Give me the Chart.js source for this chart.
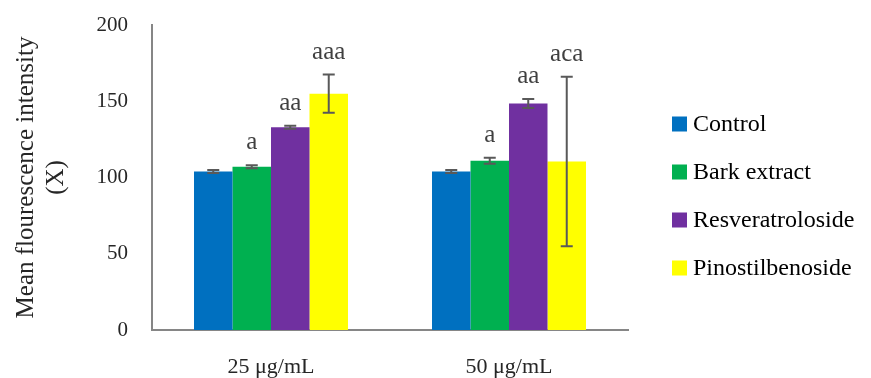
<!DOCTYPE html>
<html>
<head>
<meta charset="utf-8">
<script src="https://cdn.jsdelivr.net/npm/chart.js@4"></script>
<style>
    html, body { margin: 0; padding: 0; background: #fff; }
    #wrap { width: 871px; height: 378px; }
</style>
</head>
<body>
<div id="wrap"><canvas id="barChart"></canvas></div>
<script>
/* ---------------------------
   DATA
--------------------------- */
const categories = ['25 μg/mL', '50 μg/mL'];
const seriesNames = ['Control', 'Bark extract', 'Resveratroloside', 'Pinostilbenoside'];

const controlValues = [104, 104];
const barkValues = [107, 111];
const resveratrolosideValues = [133, 148.5];
const pinostilbenosideValues = [155, 110.5];

// error bar half-lengths
const controlErr = [1, 1];
const barkErr = [1, 2];
const resveratrolosideErr = [1, 3];
const pinostilbenosideErr = [12.5, 55.5];

// significance letters above bars
const controlLetters = ['', ''];
const barkLetters = ['a', 'a'];
const resveratrolosideLetters = ['aa', 'aa'];
const pinostilbenosideLetters = ['aaa', 'aca'];

const yTicks = [0, 50, 100, 150, 200];

const colors = ['#0070C0', '#00B050', '#7030A0', '#FFFF00'];

const FONT = "'Liberation Serif', serif";

/* ---------------------------
   ERROR BARS + LETTERS PLUGIN
--------------------------- */
const errorBarPlugin = {
    id: 'errorBars',
    afterDatasetsDraw(chart) {
        const ctx = chart.ctx;
        const yScale = chart.scales.y;
        chart.data.datasets.forEach((ds, i) => {
            const meta = chart.getDatasetMeta(i);
            meta.data.forEach((bar, j) => {
                const v = ds.data[j];
                const e = ds.errors[j];
                const yTop = yScale.getPixelForValue(v + e);
                const yBot = yScale.getPixelForValue(v - e);
                ctx.save();
                ctx.strokeStyle = '#595959';
                ctx.lineWidth = 2;
                ctx.beginPath();
                ctx.moveTo(bar.x, yTop);
                ctx.lineTo(bar.x, yBot);
                ctx.moveTo(bar.x - 6, yTop);
                ctx.lineTo(bar.x + 6, yTop);
                ctx.moveTo(bar.x - 6, yBot);
                ctx.lineTo(bar.x + 6, yBot);
                ctx.stroke();

                const letter = ds.letters[j];
                if (letter) {
                    ctx.fillStyle = '#404040';
                    ctx.font = '25px ' + FONT;
                    ctx.textAlign = 'center';
                    ctx.textBaseline = 'alphabetic';
                    ctx.fillText(letter, bar.x, Math.min(yTop, bar.y) - 16);
                }
                ctx.restore();
            });
        });
    }
};

/* ---------------------------
   LEGEND (right side)
--------------------------- */
const sideLegendPlugin = {
    id: 'sideLegend',
    afterDraw(chart) {
        const ctx = chart.ctx;
        const x = chart.chartArea.right + 44;
        const midY = chart.height / 2 + 7;
        const step = 48;
        const n = chart.data.datasets.length;
        ctx.save();
        ctx.font = '24px ' + FONT;
        ctx.textBaseline = 'middle';
        ctx.textAlign = 'left';
        chart.data.datasets.forEach((ds, i) => {
            const y = midY + (i - (n - 1) / 2) * step;
            ctx.fillStyle = ds.backgroundColor;
            ctx.fillRect(x, y - 7.5, 15, 15);
            ctx.fillStyle = '#000';
            ctx.fillText(ds.label, x + 21, y + 1);
        });
        ctx.restore();
    }
};

/* ---------------------------
   CHART
--------------------------- */
Chart.defaults.font.family = FONT;
Chart.defaults.color = '#262626';

const values = [controlValues, barkValues, resveratrolosideValues, pinostilbenosideValues];
const errs = [controlErr, barkErr, resveratrolosideErr, pinostilbenosideErr];
const letters = [controlLetters, barkLetters, resveratrolosideLetters, pinostilbenosideLetters];

const barCtx = document.getElementById('barChart').getContext('2d');

const barChart = new Chart(barCtx, {
    type: 'bar',
    data: {
        labels: categories,
        datasets: seriesNames.map((name, i) => ({
            label: name,
            data: values[i],
            errors: errs[i],
            letters: letters[i],
            backgroundColor: colors[i],
            borderWidth: 0,
            categoryPercentage: 0.647,
            barPercentage: 1
        }))
    },
    options: {
        responsive: true,
        maintainAspectRatio: false,
        animation: false,
        layout: { padding: { left: 11, top: 2, bottom: 0, right: 243 } },
        scales: {
            x: {
                grid: { display: false, drawTicks: false },
                border: { color: '#868686', width: 2 },
                ticks: { font: { size: 22 }, padding: 24 },
                afterFit: scale => { scale.height = 48; }
            },
            y: {
                min: 0,
                max: 200,
                afterBuildTicks: axis => { axis.ticks = yTicks.map(v => ({ value: v })); },
                grid: { display: false, drawTicks: false },
                border: { color: '#868686', width: 2 },
                ticks: { font: { size: 21 }, padding: 24 },
                title: {
                    display: true,
                    text: ['Mean flourescence intensity', '(X)'],
                    font: { size: 25, lineHeight: 1.2 },
                    padding: { top: 0, bottom: 0 }
                },
                afterFit: scale => {
                    scale.width = 141;
                    scale.paddingTop = 25; // room above the 200 tick
                }
            }
        },
        plugins: {
            legend: { display: false },
            tooltip: { enabled: false }
        }
    },
    plugins: [errorBarPlugin, sideLegendPlugin]
});
</script>
</body>
</html>
